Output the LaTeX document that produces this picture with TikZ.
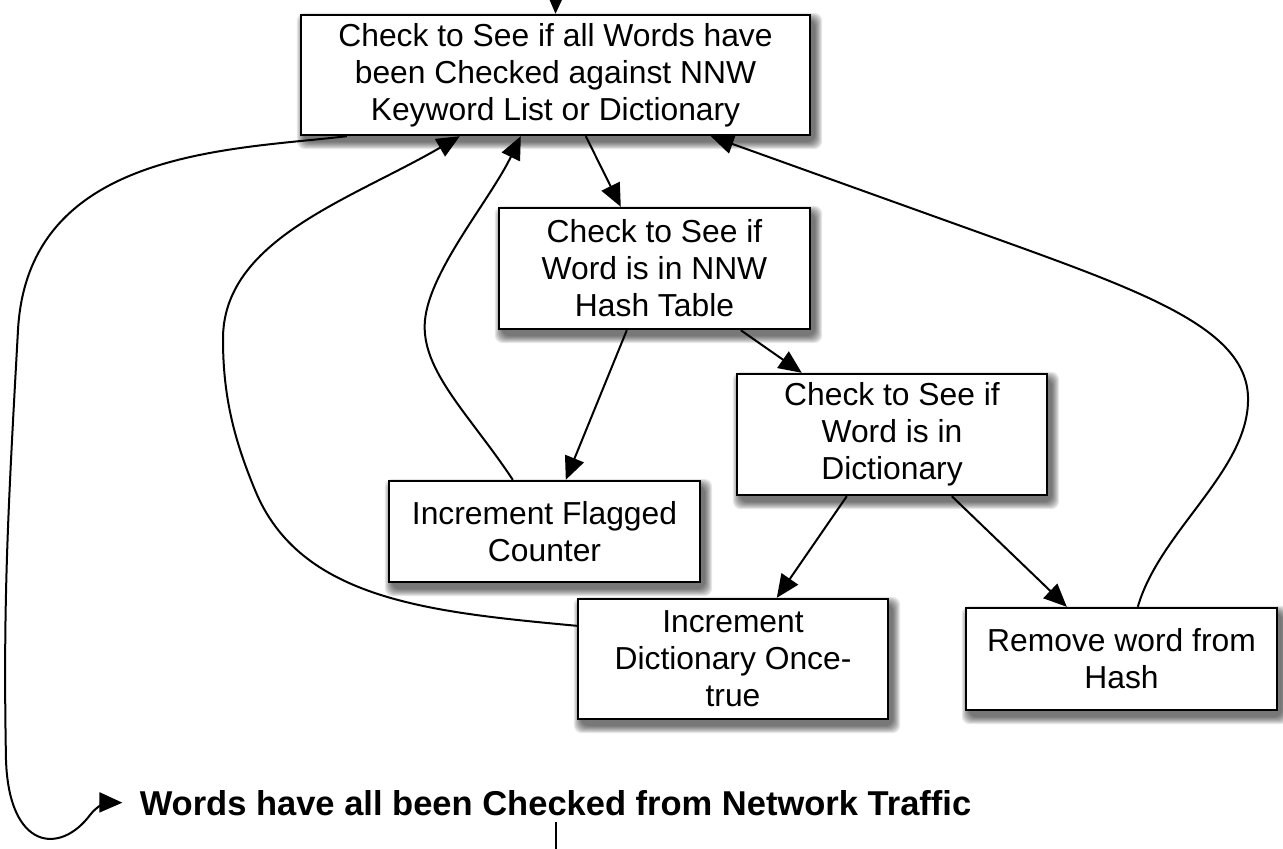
\documentclass[tikz,border=0pt]{standalone}
\usepackage{fontspec}
\setmainfont{Liberation Sans}
\usetikzlibrary{arrows.meta,calc,backgrounds}
\begin{document}
\begin{tikzpicture}[x=0.5pt,y=-0.5pt,
  box/.style={draw=black, line width=1.2pt, fill=white, align=center, inner sep=0pt,
              font=\fontsize{15.9}{18.5}\selectfont},
  conn/.style={line width=1pt, -{Triangle[length=11.5pt,width=10pt]}},
  plain/.style={line width=1pt},
  shadowlayer/.style={fill=black, opacity=0.09, rounded corners=4pt}
]
\useasboundingbox (0,0) rectangle (1283,848);

% boxes
\node[box, minimum width=254.5pt, minimum height=60pt] (top) at (555.5,75)
  {Check to See if all Words have\\been Checked against NNW\\Keyword List or Dictionary};
\node[box, minimum width=155.5pt, minimum height=60.5pt] (hash) at (654.5,268.5)
  {Check to See if\\Word is in NNW\\Hash Table};
\node[box, minimum width=155pt, minimum height=60.5pt] (dict) at (892,434.5)
  {Check to See if\\Word is in\\Dictionary};
\node[box, minimum width=155.5pt, minimum height=50.5pt] (flag) at (544.5,531.5)
  {Increment Flagged\\Counter};
\node[box, minimum width=155pt, minimum height=60pt] (once) at (733,659)
  {Increment\\Dictionary Once-\\true};
\node[box, minimum width=155.5pt, minimum height=51pt] (remove) at (1121.5,659)
  {Remove word from\\Hash};

\node[font=\bfseries\fontsize{17.25}{20}\selectfont, anchor=base, inner xsep=8.5pt, inner ysep=3pt]
  (done) at (555.5,815) {Words have all been Checked from Network Traffic};

% shadows
\begin{scope}[on background layer]
  \foreach \n in {top,hash,dict,flag,once,remove}{
    \foreach \r in {0,...,7}{
      \fill[shadowlayer] ($(\n.north west)+(4-\r,6-\r)$) rectangle ($(\n.south east)+(4+\r,6+\r)$);
    }
  }
\end{scope}

% free ends
\coordinate (in) at (556,-14);
\coordinate (out) at (556,860);

% straight connectors
\draw[conn] (in) -- (top.north);
\draw[conn] ($(top.south west)+(286,0)$) -- ($(hash.north west)+(123,0)$);
\draw[conn] ($(hash.south west)+(129,0)$) -- ($(flag.north west)+(178,0)$);
\draw[conn] ($(hash.south west)+(243,0)$) -- ($(dict.north west)+(66,0)$);
\draw[conn] ($(dict.south west)+(111,0)$) -- ($(once.north west)+(200,0)$);
\draw[conn] ($(dict.south west)+(216,0)$) -- ($(remove.north west)+(102,0)$);

% curved connectors back to the top box
\draw[conn] ($(flag.north west)+(125,0)$)
  .. controls (470,415) and (420,370) .. (425,320)
  .. controls (430,270) and (490,200) .. ($(top.south west)+(221,0)$);

\draw[conn] ($(once.north west)+(0,28)$)
  .. controls (430,612) and (300,600) .. (255,490)
  .. controls (236,444) and (223,400) .. (223,340)
  .. controls (222,240) and (350,200) .. ($(top.south west)+(160,0)$);

\draw[conn] ($(remove.north west)+(173,0)$)
  .. controls (1160,530) and (1250,470) .. (1248,397)
  .. controls (1246,330) and (1150,294) .. (1000,240)
  -- ($(top.south west)+(411,0)$);

% exit loop to the final statement
\draw[conn] ($(top.south west)+(47,0)$)
  .. controls (230,150) and (28,150) .. (18,330)
  .. controls (8,510) and (3,600) .. (6,760)
  .. controls (9,850) and (60,855) .. (90,815)
  .. controls (97.5,805) and (108,802.5) .. (done.west);

\draw[plain] (done.south) -- (done.south |- out);
\end{tikzpicture}
\end{document}
